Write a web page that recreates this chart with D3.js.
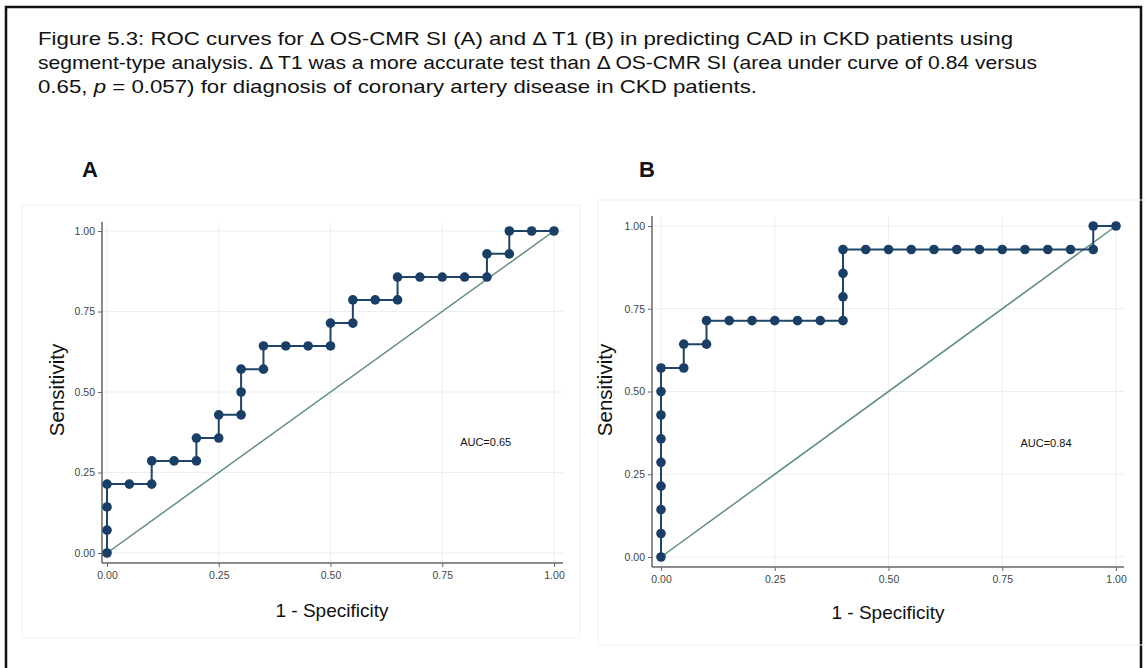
<!doctype html>
<html lang="en">
<head>
  <meta charset="UTF-8">
  <title>ROC curves</title>
  <script src="https://d3js.org/d3.v7.min.js"></script>
  <style>
    body { margin: 0; background: #fff; }
    text { font-family: "Liberation Sans", Arial, sans-serif; }
  </style>
</head>
<body>
  <div id="myDiv"></div>
  <script type="text/javascript">
    // panel A: delta OS-CMR SI
    var fprA = [0, 0, 0, 0, 0.05, 0.10, 0.10, 0.15, 0.20, 0.20, 0.25, 0.25, 0.30, 0.30, 0.30, 0.35, 0.35,
                0.40, 0.45, 0.50, 0.50, 0.55, 0.55, 0.60, 0.65, 0.65, 0.70, 0.75, 0.80, 0.85, 0.85,
                0.90, 0.90, 0.95, 1.00];
    var tprA = [0, 0.071, 0.143, 0.214, 0.214, 0.214, 0.286, 0.286, 0.286, 0.357, 0.357, 0.429, 0.429, 0.500, 0.571, 0.571, 0.643,
                0.643, 0.643, 0.643, 0.714, 0.714, 0.786, 0.786, 0.786, 0.857, 0.857, 0.857, 0.857, 0.857, 0.929,
                0.929, 1.000, 1.000, 1.000];
    // panel B: delta T1
    var fprB = [0, 0, 0, 0, 0, 0, 0, 0, 0, 0.05, 0.05, 0.10, 0.10, 0.15, 0.20, 0.25, 0.30, 0.35, 0.40,
                0.40, 0.40, 0.40, 0.45, 0.50, 0.55, 0.60, 0.65, 0.70, 0.75, 0.80, 0.85, 0.90, 0.95, 0.95, 1.00];
    var tprB = [0, 0.071, 0.143, 0.214, 0.286, 0.357, 0.429, 0.500, 0.571, 0.571, 0.643, 0.643, 0.714, 0.714, 0.714, 0.714, 0.714, 0.714, 0.714,
                0.786, 0.857, 0.929, 0.929, 0.929, 0.929, 0.929, 0.929, 0.929, 0.929, 0.929, 0.929, 0.929, 0.929, 1.000, 1.000];
    var tickVals = [0, 0.25, 0.5, 0.75, 1];
    var aucLabels = ["AUC=0.65", "AUC=0.84"];
    var panelLetters = ["A", "B"];

    var svg = d3.select("#myDiv").append("svg")
      .attr("width", 1145)
      .attr("height", 668);

    // outer frame
    svg.append("rect")
      .attr("x", 6).attr("y", 7)
      .attr("width", 1135).attr("height", 680)
      .attr("fill", "none").attr("stroke", "#111").attr("stroke-width", 2.5);

    // caption, each line stretched to the width seen in the figure
    function capLine(y, len) {
      return svg.append("text")
        .attr("x", 38).attr("y", y)
        .attr("font-size", 19).attr("fill", "#111")
        .attr("textLength", len).attr("lengthAdjust", "spacingAndGlyphs");
    }
    capLine(45, 975)
      .text("Figure 5.3: ROC curves for \u0394 OS-CMR SI (A) and \u0394 T1 (B) in predicting CAD in CKD patients using");
    capLine(69, 999)
      .text("segment-type analysis. \u0394 T1 was a more accurate test than \u0394 OS-CMR SI (area under curve of 0.84 versus");
    var l3 = capLine(93, 719);
    l3.append("tspan").text("0.65, ");
    l3.append("tspan").attr("font-style", "italic").text("p");
    l3.append("tspan").text(" = 0.057) for diagnosis of coronary artery disease in CKD patients.");

    var panels = [
      {fpr: fprA, tpr: tprA, frame: [22, 205, 558, 433], x0: 107, x1: 554, y0: 553, y1: 231,
       axL: 102, axB: 563, axT: 222, axR: 563, letterX: 90, sensX: 64, specY: 617, specX: 332},
      {fpr: fprB, tpr: tprB, frame: [598, 200, 562, 445], x0: 661, x1: 1116, y0: 557, y1: 226,
       axL: 652, axB: 567, axT: 216, axR: 1124, letterX: 647, sensX: 612, specY: 619, specX: 888}
    ];

    panels.forEach(function(p, i) {
      var g = svg.append("g");
      // faint panel background frame
      g.append("rect")
        .attr("x", p.frame[0]).attr("y", p.frame[1])
        .attr("width", p.frame[2]).attr("height", p.frame[3])
        .attr("fill", "none").attr("stroke", "#f1f1f1").attr("stroke-width", 1);

      g.append("text")
        .attr("x", p.letterX).attr("y", 177)
        .attr("text-anchor", "middle")
        .attr("font-size", 22).attr("font-weight", "bold").attr("fill", "#111")
        .text(panelLetters[i]);

      var xScale = d3.scaleLinear().domain([0, 1]).range([p.x0, p.x1]);
      var yScale = d3.scaleLinear().domain([0, 1]).range([p.y0, p.y1]);

      // gridlines
      g.selectAll(".gx").data(tickVals).enter().append("line")
        .attr("x1", function(d) { return xScale(d); })
        .attr("x2", function(d) { return xScale(d); })
        .attr("y1", p.axT).attr("y2", p.axB)
        .attr("stroke", "#e9eef4").attr("stroke-width", 1);
      g.selectAll(".gy").data(tickVals).enter().append("line")
        .attr("y1", function(d) { return yScale(d); })
        .attr("y2", function(d) { return yScale(d); })
        .attr("x1", p.axL).attr("x2", p.axR)
        .attr("stroke", "#e9eef4").attr("stroke-width", 1);

      // axes
      var xAxis = d3.axisBottom(xScale).tickValues(tickVals).tickFormat(d3.format(".2f")).tickSize(4);
      var yAxis = d3.axisLeft(yScale).tickValues(tickVals).tickFormat(d3.format(".2f")).tickSize(4);
      var gx = g.append("g").attr("transform", "translate(0," + p.axB + ")").call(xAxis);
      var gy = g.append("g").attr("transform", "translate(" + p.axL + ",0)").call(yAxis);
      gx.select(".domain").attr("d", "M" + p.axL + ",0H" + p.axR);
      gy.select(".domain").attr("d", "M0," + p.axT + "V" + p.axB);
      [gx, gy].forEach(function(a) {
        a.select(".domain").attr("stroke", "#666").attr("stroke-width", 1.5);
        a.selectAll(".tick line").attr("stroke", "#666");
        a.selectAll(".tick text").attr("fill", "#444").attr("font-size", 10.5)
          .style("font-family", "'Liberation Sans', Arial, sans-serif");
      });
      gx.selectAll(".tick text").attr("dy", "0.9em");

      // axis titles
      g.append("text")
        .attr("transform", "translate(" + p.sensX + ",390) rotate(-90)")
        .attr("text-anchor", "middle").attr("font-size", 20.5).attr("fill", "#111")
        .text("Sensitivity");
      g.append("text")
        .attr("x", p.specX).attr("y", p.specY)
        .attr("text-anchor", "middle").attr("font-size", 19).attr("fill", "#111")
        .text("1 - Specificity");

      // reference line
      g.append("line")
        .attr("x1", xScale(0)).attr("y1", yScale(0))
        .attr("x2", xScale(1)).attr("y2", yScale(1))
        .attr("stroke", "#5f8c7e").attr("stroke-width", 1.5);

      var pts = p.fpr.map(function(d, j) { return [d, p.tpr[j]]; });
      var line = d3.line()
        .x(function(d) { return xScale(d[0]); })
        .y(function(d) { return yScale(d[1]); });
      g.append("path").datum(pts)
        .attr("d", line).attr("fill", "none")
        .attr("stroke", "#1f4468").attr("stroke-width", 2);
      g.selectAll(".pt").data(pts).enter().append("circle")
        .attr("cx", function(d) { return xScale(d[0]); })
        .attr("cy", function(d) { return yScale(d[1]); })
        .attr("r", 4.8)
        .attr("fill", "#1a3f66");

      g.append("text")
        .attr("x", xScale(0.79)).attr("y", yScale(0.345) + 4)
        .attr("font-size", 11).attr("fill", "#111")
        .text(aucLabels[i]);
    });
  </script>
</body>
</html>
